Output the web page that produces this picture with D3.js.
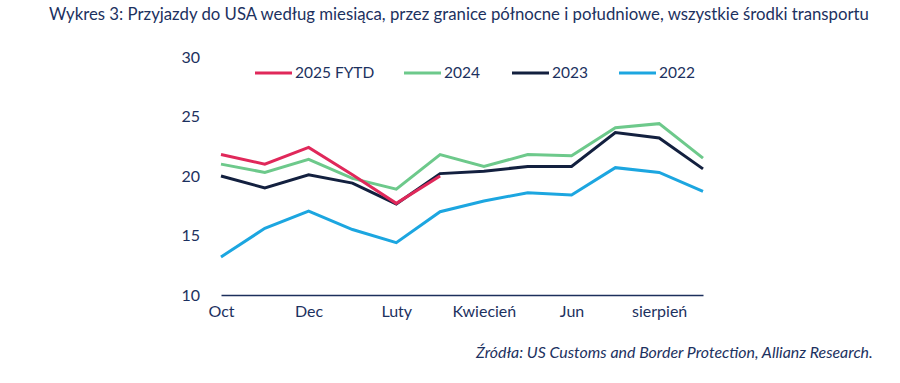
<!DOCTYPE html>
<html><head><meta charset="utf-8">
<script src="https://cdn.jsdelivr.net/npm/d3@7"></script>
<style>
html,body{margin:0;padding:0;background:#fff;}
svg{display:block;}
text{font-family:Lato,"Open Sans",sans-serif;}
</style></head>
<body>
<svg id="chart" width="900" height="383"></svg>
<script>
const months = ["Oct","Nov","Dec","Jan","Feb","Mar","Apr","May","Jun","Jul","Aug","Sep"];
const xTickLabels = {Oct:"Oct", Dec:"Dec", Feb:"Luty", Apr:"Kwiecień", Jun:"Jun", Aug:"sierpień"};
const yTicks = [10, 15, 20, 25, 30];
const seriesNames = ["2025 FYTD","2024","2023","2022"];
const seriesColors = ["#e0285a","#6dc98b","#13203f","#1ca6e0"];
const values2025 = [21.8, 21.0, 22.4, 20.1, 17.7, 20.0];
const values2024 = [21.0, 20.3, 21.4, 19.8, 18.9, 21.8, 20.8, 21.8, 21.7, 24.05, 24.4, 21.5];
const values2023 = [20.0, 19.0, 20.1, 19.4, 17.65, 20.2, 20.4, 20.8, 20.8, 23.65, 23.2, 20.6];
const values2022 = [13.2, 15.6, 17.05, 15.5, 14.4, 17.0, 17.9, 18.6, 18.4, 20.7, 20.3, 18.7];
const titleText = "Wykres 3: Przyjazdy do USA według miesiąca, przez granice północne i południowe, wszystkie środki transportu";
const sourceText = "Źródła: US Customs and Border Protection, Allianz Research.";

const allSeries = [values2025, values2024, values2023, values2022];
const textColor = "#1c3160";
const svg = d3.select("#chart");

const x = d3.scalePoint().domain(months).range([221, 703]);
const y = d3.scaleLinear().domain([10, 30]).range([295, 57]);

function fitText(sel, w){
  const n = sel.node();
  const fs = parseFloat(sel.attr("font-size"));
  const cur = n.getComputedTextLength();
  sel.attr("font-size", (fs * w / cur).toFixed(2));
}

// title
const t = svg.append("text").attr("x", 49).attr("y", 20).attr("font-size", 15)
  .attr("fill", textColor).text(titleText);
fitText(t, 820);

// y axis labels
svg.append("g").selectAll("text").data(yTicks).join("text")
  .attr("x", 200).attr("y", d => y(d)).attr("dy", "0.35em")
  .attr("text-anchor", "end").attr("font-size", 16).attr("fill", textColor)
  .text(d => d);

// x axis
const xAxis = d3.axisBottom(x).tickSize(0).tickPadding(11)
  .tickValues(Object.keys(xTickLabels)).tickFormat(d => xTickLabels[d]);
const gx = svg.append("g").attr("transform", `translate(0,${y(10)})`).call(xAxis);
gx.select(".domain").attr("stroke", "#1c2f5c").attr("stroke-width", 1.5);
gx.selectAll("text").attr("font-size", 16).attr("fill", textColor)
  .attr("font-family", "Lato, 'Open Sans', sans-serif");

// lines
const line = d3.line().x((d,i) => x(months[i])).y(d => y(d));
const order = [3, 1, 2, 0];
svg.append("g").selectAll("path").data(order).join("path")
  .attr("d", i => line(allSeries[i]))
  .attr("fill", "none").attr("stroke", i => seriesColors[i])
  .attr("stroke-width", 3).attr("stroke-linejoin", "miter");

// legend
const legendX = [255, 404, 512, 619];
const lg = svg.append("g").selectAll("g").data(seriesNames).join("g")
  .attr("transform", (d,i) => `translate(${legendX[i]},73)`);
lg.append("line").attr("x1", 0).attr("x2", 37).attr("y1", 0).attr("y2", 0)
  .attr("stroke", (d,i) => seriesColors[i]).attr("stroke-width", 3);
lg.append("text").attr("x", 40).attr("y", 0).attr("dy", "0.35em")
  .attr("font-size", 15.5).attr("fill", textColor).text(d => d);

// source
const s = svg.append("text").attr("x", 476).attr("y", 358).attr("font-size", 14)
  .attr("font-style", "italic").attr("fill", textColor).text(sourceText);
fitText(s, 397);
</script>
</body></html>
